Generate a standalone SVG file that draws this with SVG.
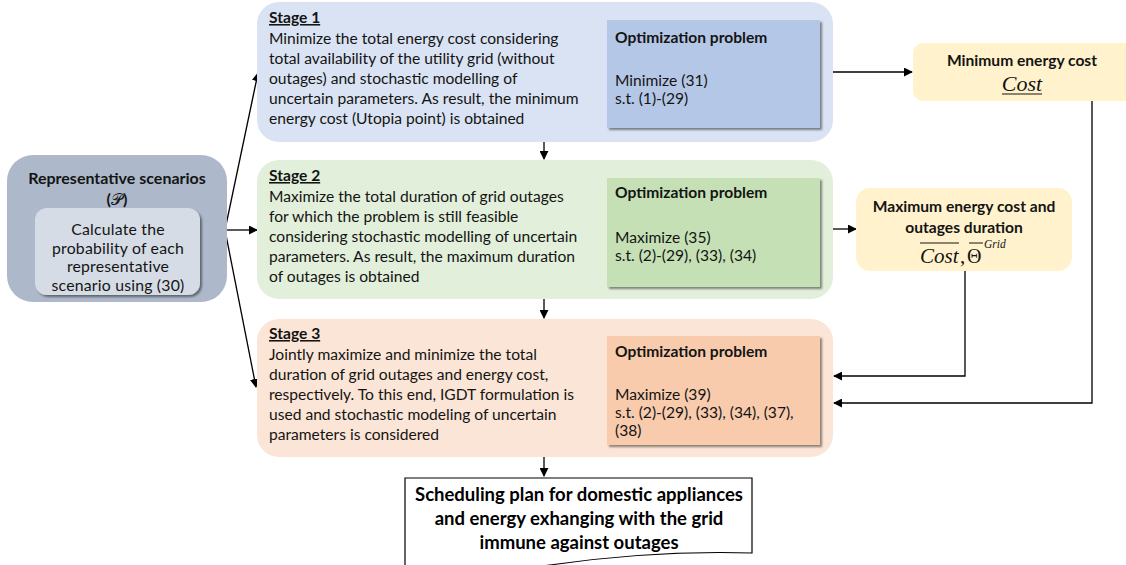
<svg xmlns="http://www.w3.org/2000/svg" width="1126" height="565" viewBox="0 0 1126 565">
  <style>
    .t { font-family: Lato, "Liberation Sans", sans-serif; font-size: 15.6px; fill: #141414; }
    .b { font-weight: bold; }
    .u { text-decoration: underline; }
    .c { text-anchor: middle; }
    .hd { font-size: 16px; }
    .in { font-size: 15.8px; letter-spacing: 0.2px; }
    .doc { font-size: 18.5px; fill: #000; }
    .m { font-family: "Liberation Serif", "DejaVu Serif", serif; font-style: italic; fill: #141414; }
    .up { font-style: normal; }
    .arr { fill: none; stroke: #000; stroke-width: 1.3; marker-end: url(#ah); }
  </style>
  <defs>
    <marker id="ah" viewBox="0 0 10 10" refX="9" refY="5" markerWidth="9" markerHeight="9" markerUnits="userSpaceOnUse" orient="auto">
      <path d="M0,0 L10,5 L0,10 Z" fill="#000"/>
    </marker>
    <filter id="sh" x="-10%" y="-10%" width="130%" height="130%">
      <feDropShadow dx="2" dy="2" stdDeviation="1.2" flood-color="#000" flood-opacity="0.45"/>
    </filter>
  </defs>
  <rect width="1126" height="565" fill="#fff"/>

  <!-- connectors -->
  <g id="connectors">
    <line class="arr" x1="225" y1="230" x2="258" y2="73"/>
    <line class="arr" x1="225" y1="230" x2="257" y2="230"/>
    <line class="arr" x1="225" y1="230" x2="256" y2="387"/>
    <line class="arr" x1="544" y1="142" x2="544" y2="159"/>
    <line class="arr" x1="544" y1="299" x2="544" y2="318"/>
    <line class="arr" x1="544" y1="457" x2="544" y2="476"/>
    <line class="arr" x1="833" y1="72" x2="912" y2="72"/>
    <line class="arr" x1="833" y1="229" x2="856" y2="229"/>
    <polyline class="arr" points="1092,101 1092,403 834,403"/>
    <polyline class="arr" points="965,271 965,376 834,376"/>
  </g>

  <!-- scenarios -->
  <g id="scenarios">
    <rect x="7" y="155" width="220" height="147" rx="26" fill="#adb9ca"/>
    <text class="t b c hd" x="117" y="184">Representative scenarios</text>
    <text class="t b c hd" x="117" y="205">(<tspan font-family="'DejaVu Sans', serif" font-weight="normal">𝒫</tspan>)</text>
    <rect x="35" y="208" width="165" height="87" rx="12" fill="#d6dce5" filter="url(#sh)"/>
    <text class="t c in" x="118" y="235">Calculate the</text>
    <text class="t c in" x="118" y="254">probability of each</text>
    <text class="t c in" x="118" y="272">representative</text>
    <text class="t c in" x="118" y="291">scenario using (30)</text>
  </g>

  <!-- stage 1 -->
  <g id="stage1">
    <rect x="257" y="2" width="576" height="140" rx="22" fill="#dae3f3"/>
    <text class="t b u" x="269" y="23">Stage 1</text>
    <text class="t" x="269" y="44">Minimize the total energy cost considering</text>
    <text class="t" x="269" y="64">total availability of the utility grid (without</text>
    <text class="t" x="269" y="84">outages) and stochastic modelling of</text>
    <text class="t" x="269" y="104">uncertain parameters. As result, the minimum</text>
    <text class="t" x="269" y="124">energy cost (Utopia point) is obtained</text>
    <rect x="607" y="20" width="213" height="108" fill="#b4c7e7" filter="url(#sh)"/>
    <text class="t b" x="615" y="43">Optimization problem</text>
    <text class="t" x="615" y="86">Minimize (31)</text>
    <text class="t" x="615" y="104">s.t. (1)-(29)</text>
  </g>

  <!-- stage 2 -->
  <g id="stage2">
    <rect x="257" y="160" width="576" height="139" rx="22" fill="#e2efda"/>
    <text class="t b u" x="269" y="181">Stage 2</text>
    <text class="t" x="269" y="202">Maximize the total duration of grid outages</text>
    <text class="t" x="269" y="222">for which the problem is still feasible</text>
    <text class="t" x="269" y="242">considering stochastic modelling of uncertain</text>
    <text class="t" x="269" y="262">parameters. As result, the maximum duration</text>
    <text class="t" x="269" y="282">of outages is obtained</text>
    <rect x="607" y="178" width="213" height="109" fill="#c5e0b4" filter="url(#sh)"/>
    <text class="t b" x="615" y="198">Optimization problem</text>
    <text class="t" x="615" y="243">Maximize (35)</text>
    <text class="t" x="615" y="261">s.t. (2)-(29), (33), (34)</text>
  </g>

  <!-- stage 3 -->
  <g id="stage3">
    <rect x="257" y="319" width="576" height="138" rx="22" fill="#fbe5d6"/>
    <text class="t b u" x="269" y="339">Stage 3</text>
    <text class="t" x="269" y="360">Jointly maximize and minimize the total</text>
    <text class="t" x="269" y="380">duration of grid outages and energy cost,</text>
    <text class="t" x="269" y="400">respectively. To this end, IGDT formulation is</text>
    <text class="t" x="269" y="420">used and stochastic modeling of uncertain</text>
    <text class="t" x="269" y="440">parameters is considered</text>
    <rect x="607" y="336" width="213" height="109" fill="#f8cbad" filter="url(#sh)"/>
    <text class="t b" x="615" y="357">Optimization problem</text>
    <text class="t" x="615" y="400">Maximize (39)</text>
    <text class="t" x="615" y="418">s.t. (2)-(29), (33), (34), (37),</text>
    <text class="t" x="615" y="436">(38)</text>
  </g>

  <!-- minimum cost -->
  <g id="mincost">
    <rect x="913" y="43" width="222" height="58" rx="10" fill="#fff2cc"/>
    <text class="t b c" x="1022" y="66">Minimum energy cost</text>
    <text class="m c" x="1022" y="91" font-size="22">Cost</text>
    <line x1="1002" y1="94" x2="1042" y2="94" stroke="#141414" stroke-width="1"/>
  </g>

  <!-- maximum cost and outage duration -->
  <g id="maxcost">
    <rect x="856" y="188" width="216" height="83" rx="14" fill="#fff2cc"/>
    <text class="t b c" x="964" y="212">Maximum energy cost and</text>
    <text class="t b c" x="964" y="233">outages duration</text>
    <line x1="920" y1="243" x2="959" y2="243" stroke="#141414" stroke-width="1"/>
    <text class="m" x="920" y="263" font-size="21">Cost</text>
    <text class="m up" x="960" y="263" font-size="21">,</text>
    <line x1="969" y1="243" x2="983" y2="243" stroke="#141414" stroke-width="1"/>
    <text class="m up" x="967" y="263" font-size="20">Θ</text>
    <text class="m" x="984" y="248" font-size="11.5">Grid</text>
  </g>

  <!-- output document -->
  <g id="schedule">
    <path d="M405,478 H752 V553 C685,551 610,556 543,566 C490,574 440,580 405,580 Z" fill="#fff" stroke="#000" stroke-width="1.2"/>
    <text class="t b c doc" x="579" y="501">Scheduling plan for domestic appliances</text>
    <text class="t b c doc" x="579" y="525">and energy exhanging with the grid</text>
    <text class="t b c doc" x="579" y="549">immune against outages</text>
  </g>
</svg>
